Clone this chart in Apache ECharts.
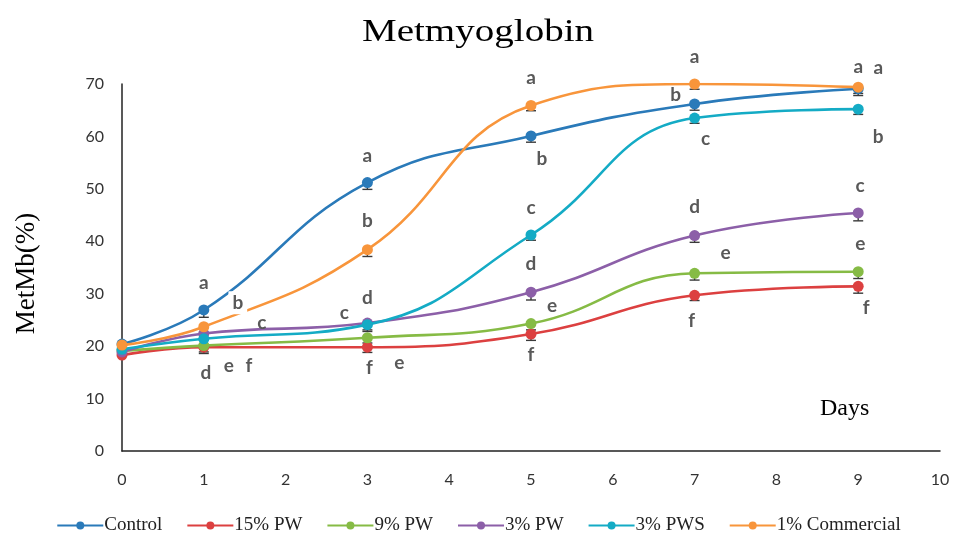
<!DOCTYPE html>
<html><head><meta charset="utf-8">
<script src="https://cdn.jsdelivr.net/npm/echarts@6/dist/echarts.min.js"></script>
<style>html,body{margin:0;padding:0;background:#fff}#c{width:957px;height:533px}</style>
</head><body><div id="c"></div>
<script>
const days = [0, 1, 3, 5, 7, 9];
const xTicks = [0,1,2,3,4,5,6,7,8,9,10];
const yTicks = [0,10,20,30,40,50,60,70];
const seriesNames = ['Control', '15% PW', '9% PW', '3% PW', '3% PWS', '1% Commercial'];
const control    = [20.4, 26.9, 51.2, 60.1, 66.2, 69.1];
const pw15       = [18.3, 19.8, 19.8, 22.3, 29.7, 31.4];
const pw9        = [19.1, 20.1, 21.6, 24.3, 33.9, 34.2];
const pw3        = [18.9, 22.4, 24.4, 30.3, 41.1, 45.4];
const pws3       = [19.4, 21.4, 24.1, 41.2, 63.5, 65.2];
const commercial = [20.2, 23.7, 38.4, 65.9, 70.0, 69.4];
const errControl    = [0, 1.4, 1.3, 1.2, 1.2, 1.3];
const errPw15       = [0, 1.2, 1.0, 1.2, 1.0, 1.3];
const errPw9        = [0, 1.2, 1.0, 1.2, 1.3, 1.3];
const errPw3        = [0, 1.2, 1.3, 1.5, 1.3, 1.5];
const errPws3       = [0, 1.2, 1.3, 1.0, 1.0, 1.0];
const errCommercial = [0, 1.2, 1.3, 1.0, 1.0, 1.2];
const lettersControl    = ['', 'a', 'a', 'b', 'b', 'a'];
const lettersPw15       = ['', 'f', 'f', 'f', 'f', 'f'];
const lettersPw9        = ['', 'e', 'e', 'e', 'e', 'e'];
const lettersPw3        = ['', 'c', 'd', 'd', 'd', 'c'];
const lettersPws3       = ['', 'd', 'c', 'c', 'c', 'b'];
const lettersCommercial = ['', 'b', 'b', 'a', 'a', 'a'];

// label offsets (styling)
const offControl    = [[0,0],[0,-27],[0,-27],[11,23],[-19,-9],[20,-21]];
const offPw15       = [[0,0],[45,19],[2,21],[0,21],[-3,26],[8,22]];
const offPw9        = [[0,0],[25,20],[32,25],[21,-18],[31,-20],[2,-28]];
const offPw3        = [[0,0],[58,-11],[0,-25],[0,-28],[0,-29],[2,-27]];
const offPws3       = [[0,0],[2,34],[-23,-12],[0,-27],[11,21],[20,28]];
const offCommercial = [[0,0],[34,-24],[0,-29],[0,-28],[0,-27],[0,-20]];

const colors = ['#2a7ab9', '#dc4040', '#86bb45', '#8c5fa8', '#14abc5', '#f8953b'];
const allVals = [control, pw15, pw9, pw3, pws3, commercial];
const allErr = [errControl, errPw15, errPw9, errPw3, errPws3, errCommercial];
const allLetters = [lettersControl, lettersPw15, lettersPw9, lettersPw3, lettersPws3, lettersCommercial];
const allOff = [offControl, offPw15, offPw9, offPw3, offPws3, offCommercial];

const chart = echarts.init(document.getElementById('c'));
const series = [];
// error bars (minus direction)
allVals.forEach((vals, si) => {
  series.push({
    type: 'custom',
    name: seriesNames[si] + ' err',
    silent: true,
    z: 1,
    renderItem: function (params, api) {
      const x = api.value(0), y = api.value(1), e = api.value(2);
      if (!e) return null;
      const top = api.coord([x, y]);
      const bot = api.coord([x, y - e]);
      const w = 5;
      const st = { stroke: '#3a3a3a', lineWidth: 1.4 };
      return { type: 'group', children: [
        { type: 'line', shape: { x1: top[0], y1: top[1], x2: bot[0], y2: bot[1] }, style: st },
        { type: 'line', shape: { x1: bot[0]-w, y1: bot[1], x2: bot[0]+w, y2: bot[1] }, style: st }
      ]};
    },
    data: days.map((d, i) => [d, vals[i], allErr[si][i]])
  });
});
allVals.forEach((vals, si) => {
  series.push({
    type: 'line',
    name: seriesNames[si],
    smooth: 0.45,
    symbol: 'circle',
    symbolSize: 11,
    z: 2 + si,
    color: colors[si],
    lineStyle: { width: 2.6, color: colors[si] },
    itemStyle: { color: colors[si] },
    data: days.map((d, i) => ({
      value: [d, vals[i]],
      label: {
        show: !!allLetters[si][i],
        position: 'inside',
        formatter: allLetters[si][i],
        offset: allOff[si][i],
        color: '#595959',
        fontFamily: 'Lato',
        fontWeight: 'bold',
        fontSize: 19,
        backgroundColor: (si === 5 && i === 1) ? '#ffffff' : 'transparent',
        padding: (si === 5 && i === 1) ? [2, 4] : 0
      }
    }))
  });
});

chart.setOption({
  animation: false,
  legend: {
    top: 511, left: 'center', itemGap: 24, itemWidth: 46, itemHeight: 10,
    data: seriesNames,
    textStyle: { fontFamily: 'Liberation Serif', fontSize: 19, color: '#222', padding: [0,0,0,-4] }
  },
  grid: { left: 122, right: 17, top: 84, bottom: 82 },
  xAxis: {
    type: 'value', min: 0, max: 10, interval: 1,
    axisLine: { show: true, onZero: false, lineStyle: { color: '#222', width: 1.5 } },
    axisTick: { show: false },
    splitLine: { show: false },
    axisLabel: { margin: 21, fontFamily: 'Lato', fontSize: 16, color: '#333',
      formatter: v => xTicks.includes(v) ? String(v) : '' }
  },
  yAxis: {
    type: 'value', min: 0, max: 70, interval: 10,
    name: 'MetMb(%)', nameLocation: 'middle', nameGap: 82,
    nameTextStyle: { fontFamily: 'Liberation Serif', fontSize: 27, color: '#000', padding: [0, 0, 0, -12] },
    axisLine: { show: true, lineStyle: { color: '#222', width: 1.5 } },
    axisTick: { show: false },
    splitLine: { show: false },
    axisLabel: { margin: 18, fontFamily: 'Lato', fontSize: 16, color: '#333',
      formatter: v => yTicks.includes(v) ? String(v) : '' }
  },
  graphic: [{
    type: 'text', x: 478, y: 33, scaleX: 1.22, scaleY: 1,
    style: { text: 'Metmyoglobin', fontFamily: 'Liberation Serif', fontSize: 32, fill: '#000',
      textAlign: 'center', textVerticalAlign: 'middle' }
  }, {
    type: 'text', left: 820, top: 397,
    style: { text: 'Days', fontFamily: 'Liberation Serif', fontSize: 24, fill: '#000' }
  }],
  series: series
});
</script></body></html>
